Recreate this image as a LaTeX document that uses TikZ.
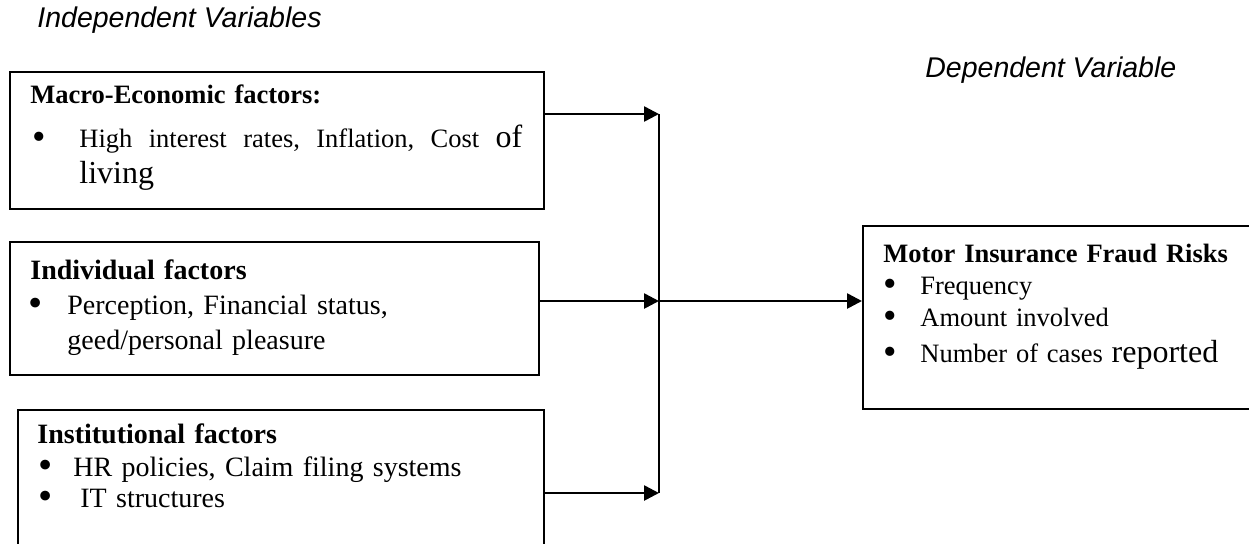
\documentclass[tikz,border=0pt]{standalone}
\usepackage{fontspec}
\setmainfont{Liberation Serif}
\newfontfamily\varfont{Liberation Sans}
\usepackage{tikz}
\usetikzlibrary{positioning,calc,arrows.meta}
\newdimen\px \px=0.5pt
% bullet line: bullet offset, text offset, text
\newcommand{\bigbul}{\smash{\raisebox{-0.08em}{\scalebox{1.45}{\textbullet}}}}
\newcommand{\bitem}[3]{\hspace*{#1\px}\makebox[#2\px][l]{\bigbul}#3}
\newcommand{\bigword}[1]{{\fontsize{16}{19}\selectfont #1}}

\begin{document}
\begin{tikzpicture}[
    x=0.5pt, y=-0.5pt,
    % Estilos
    factor/.style={draw, line width=1pt, inner sep=0pt, anchor=north west},
    txt/.style={inner sep=0pt, anchor=north west, align=left, text width=500\px,
        font=\fontsize{13.25}{16}\selectfont},
    vartitle/.style={inner sep=0pt, anchor=west, font=\varfont\itshape\fontsize{14.25}{17}\selectfont},
    arr/.style={-{Triangle[length=7.5pt, width=7.5pt]}, line width=1.3pt}
]
\useasboundingbox (0,0) rectangle (1249,543);
\clip (0,0) rectangle (1249,543);

% --- TITULOS ---
\node[vartitle] (indep) at (37,20) {Independent Variables};
\node[vartitle] (dep) at (925,70) {Dependent Variable};

% --- CAJAS ---
\node[factor, minimum width=534\px, minimum height=137\px] (macro) at (9,71) {};
\node[factor, minimum width=529\px, minimum height=133\px] (indiv) at (9,241) {};
\node[factor, minimum width=526\px, minimum height=170\px] (inst)  at (17,409) {};
\node[factor, minimum width=430\px, minimum height=183\px] (fraud) at (862,225) {};

% --- TEXTOS ---
\node[txt] (macrotxt) at (30,84) {\textbf{Macro-Economic factors:}\\[6pt]
    \bitem{2.5}{46.5}{\makebox[443\px][l]{High\hfill interest\hfill rates,\hfill Inflation,\hfill Cost\hfill \bigword{of}}}\\[2pt]
    \hspace*{49\px}\bigword{living}};
\node[txt, font=\fontsize{14}{16}\selectfont] (indivtxt) at (30,259) {\textbf{Individual factors}\\[1.5pt]
    \bitem{-1.5}{38.5}{Perception, Financial status,}\\[1.5pt]
    \hspace*{37\px}geed/personal pleasure};
\node[txt, font=\fontsize{14}{16}\selectfont] (insttxt) at (37,423) {\textbf{Institutional factors}\\[0.5pt]
    \bitem{1.5}{34.5}{HR policies, Claim filing systems}\\[-0.5pt]
    \bitem{1.5}{41.5}{IT structures}};
\node[txt, text width=360\px] (fraudtxt) at (883,244) {\textbf{Motor Insurance Fraud Risks}\\
    \bitem{0.5}{36.5}{Frequency}\\
    \bitem{0.5}{36.5}{Amount involved}\\[2pt]
    \bitem{0.5}{36.5}{Number of cases \bigword{reported}}};

% --- ENRUTADO ---
\coordinate (jtop) at (659,114);
\coordinate (jmid) at (659,301);
\coordinate (jbot) at (659,493);

\draw[line width=1pt] (jtop) -- (jbot);
\draw[arr] (macro.east |- jtop) -- (jtop);
\draw[arr] (indiv.east |- jmid) -- (jmid);
\draw[arr] (inst.east |- jbot)  -- (jbot);
\draw[arr] (jmid) -- (fraud.west |- jmid);

\end{tikzpicture}
\end{document}
